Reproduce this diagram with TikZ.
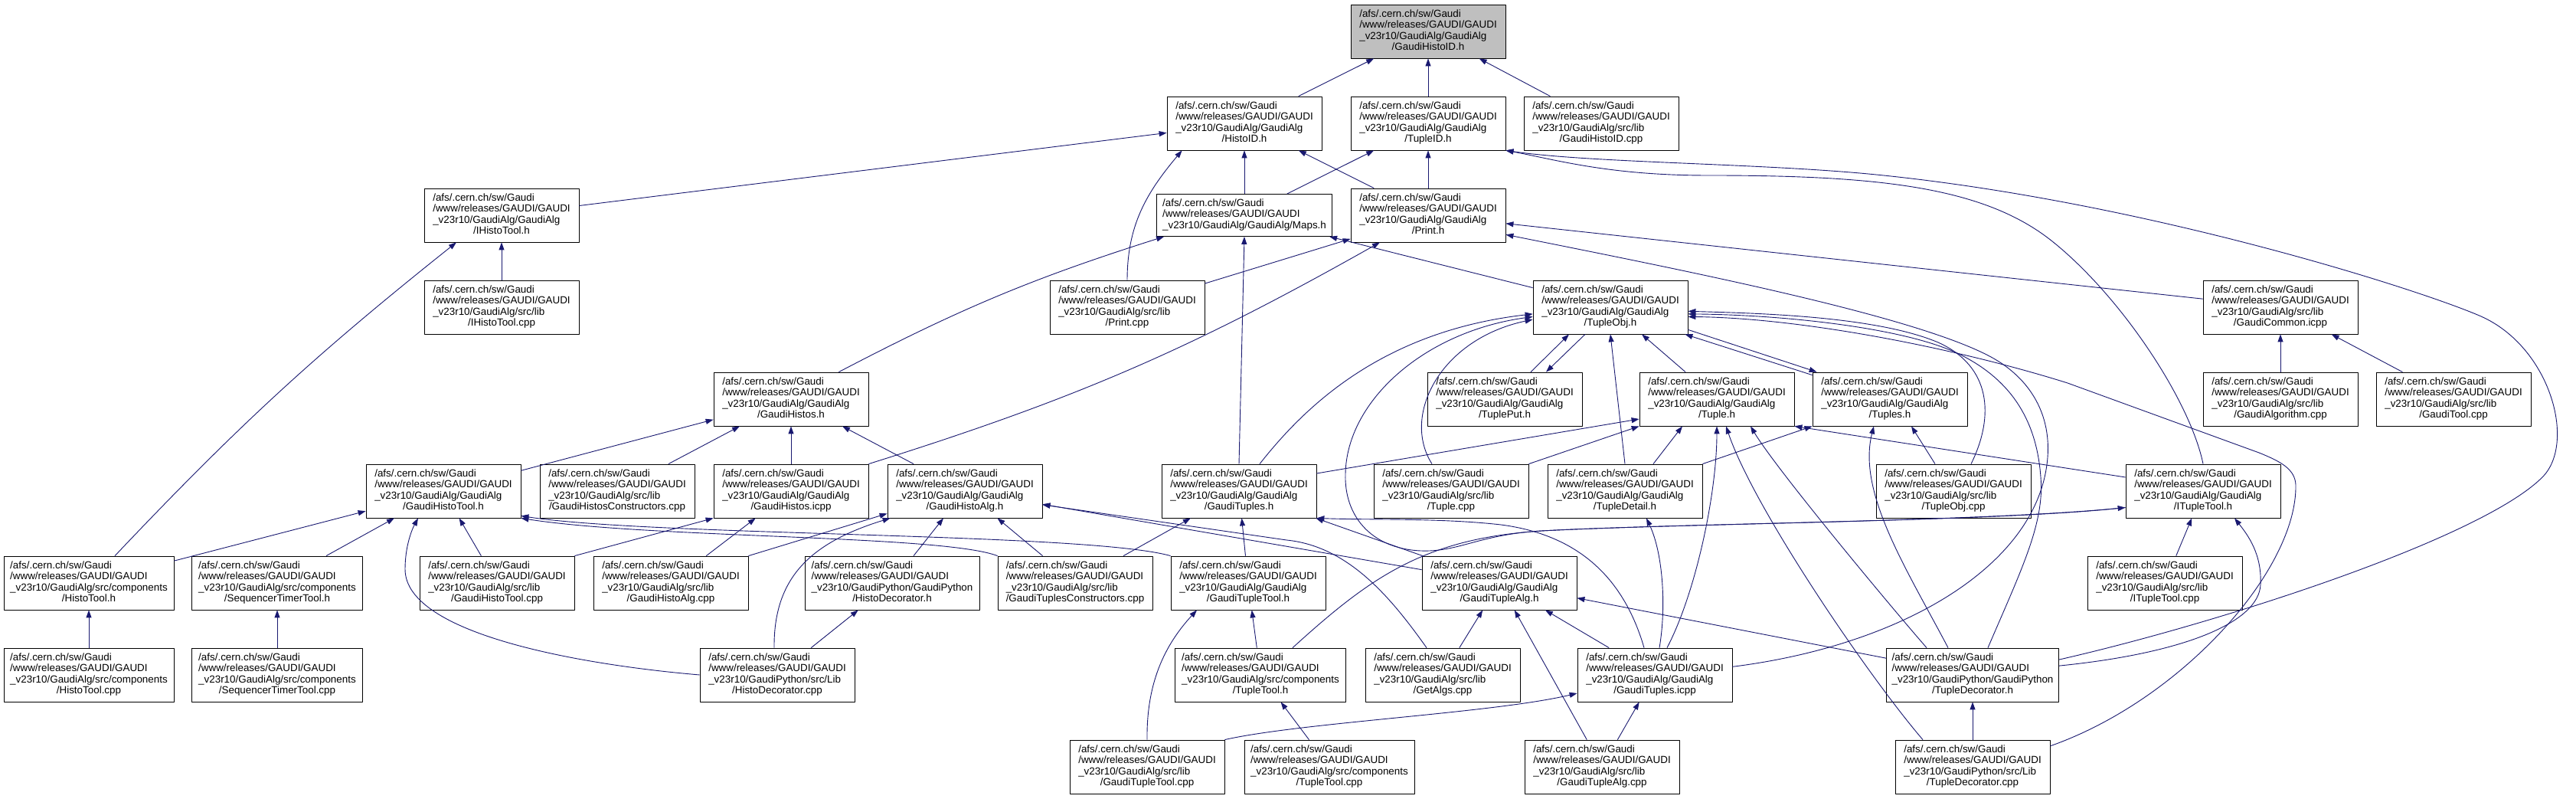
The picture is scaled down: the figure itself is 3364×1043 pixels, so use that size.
\documentclass[tikz,border=0pt]{standalone}
\usepackage{fontspec}
\setmainfont{Liberation Sans}
\usetikzlibrary{arrows.meta}
\definecolor{edgeblue}{HTML}{191970}
\newcommand{\gfile}[2]{\begin{tabular}{@{}l@{}}/afs/.cern.ch/sw/Gaudi\\/www/releases/GAUDI/GAUDI\\\_v23r10/#1\\\multicolumn{1}{@{}c@{}}{/#2}\end{tabular}}
\begin{document}
\begin{tikzpicture}[x=1pt,y=1pt,>={Triangle[length=10pt,width=7pt]},line join=round,
	file/.style={draw=black,fill=white,line width=0.8pt,minimum width=202pt,minimum height=70pt,inner sep=0pt,font=\fontsize{13.4}{14.6}\selectfont},
	current/.style={file,fill=black!25},
	inc/.style={draw=edgeblue,line width=0.9pt,->}]
		\path[use as bounding box] (0,0) rectangle (3364,1043);
		\node[current] (ghid) at (1865,1002) {\gfile{GaudiAlg/GaudiAlg}{GaudiHistoID.h}};
		\node[file] (hid) at (1625,882) {\gfile{GaudiAlg/GaudiAlg}{HistoID.h}};
		\node[file] (tid) at (1865,882) {\gfile{GaudiAlg/GaudiAlg}{TupleID.h}};
		\node[file] (hidcpp) at (2091,882) {\gfile{GaudiAlg/src/lib}{GaudiHistoID.cpp}};
		\node[file] (iht) at (655,762) {\gfile{GaudiAlg/GaudiAlg}{IHistoTool.h}};
		\node[file,minimum width=229pt,minimum height=55pt] (maps) at (1625,762) {\begin{tabular}{@{}l@{}}/afs/.cern.ch/sw/Gaudi\\/www/releases/GAUDI/GAUDI\\\_v23r10/GaudiAlg/GaudiAlg/Maps.h\end{tabular}};
		\node[file] (print) at (1865,762) {\gfile{GaudiAlg/GaudiAlg}{Print.h}};
		\node[file] (ihtcpp) at (655,642) {\gfile{GaudiAlg/src/lib}{IHistoTool.cpp}};
		\node[file] (printcpp) at (1472,642) {\gfile{GaudiAlg/src/lib}{Print.cpp}};
		\node[file] (tobj) at (2103,642) {\gfile{GaudiAlg/GaudiAlg}{TupleObj.h}};
		\node[file] (gcom) at (2978,642) {\gfile{GaudiAlg/src/lib}{GaudiCommon.icpp}};
		\node[file] (ghs) at (1033,522) {\gfile{GaudiAlg/GaudiAlg}{GaudiHistos.h}};
		\node[file] (tput) at (1965,522) {\gfile{GaudiAlg/GaudiAlg}{TuplePut.h}};
		\node[file] (tup) at (2242,522) {\gfile{GaudiAlg/GaudiAlg}{Tuple.h}};
		\node[file] (tups) at (2468,522) {\gfile{GaudiAlg/GaudiAlg}{Tuples.h}};
		\node[file] (galgcpp) at (2978,522) {\gfile{GaudiAlg/src/lib}{GaudiAlgorithm.cpp}};
		\node[file] (gtoolcpp) at (3204,522) {\gfile{GaudiAlg/src/lib}{GaudiTool.cpp}};
		\node[file] (ght) at (579,402) {\gfile{GaudiAlg/GaudiAlg}{GaudiHistoTool.h}};
		\node[file] (ghscon) at (806,402) {\gfile{GaudiAlg/src/lib}{GaudiHistosConstructors.cpp}};
		\node[file] (ghsicpp) at (1033,402) {\gfile{GaudiAlg/GaudiAlg}{GaudiHistos.icpp}};
		\node[file] (gha) at (1260,402) {\gfile{GaudiAlg/GaudiAlg}{GaudiHistoAlg.h}};
		\node[file] (gts) at (1618,402) {\gfile{GaudiAlg/GaudiAlg}{GaudiTuples.h}};
		\node[file] (tupcpp) at (1895,402) {\gfile{GaudiAlg/src/lib}{Tuple.cpp}};
		\node[file] (tdet) at (2122,402) {\gfile{GaudiAlg/GaudiAlg}{TupleDetail.h}};
		\node[file] (tobjcpp) at (2551,402) {\gfile{GaudiAlg/src/lib}{TupleObj.cpp}};
		\node[file] (itt) at (2877,402) {\gfile{GaudiAlg/GaudiAlg}{ITupleTool.h}};
		\node[file,minimum width=222pt] (htool) at (116,282) {\gfile{GaudiAlg/src/components}{HistoTool.h}};
		\node[file,minimum width=223pt] (stt) at (362,282) {\gfile{GaudiAlg/src/components}{SequencerTimerTool.h}};
		\node[file] (ghtcpp) at (649,282) {\gfile{GaudiAlg/src/lib}{GaudiHistoTool.cpp}};
		\node[file] (ghacpp) at (876,282) {\gfile{GaudiAlg/src/lib}{GaudiHistoAlg.cpp}};
		\node[file,minimum width=228pt] (hdec) at (1165,282) {\gfile{GaudiPython/GaudiPython}{HistoDecorator.h}};
		\node[file] (gtscon) at (1404,282) {\gfile{GaudiAlg/src/lib}{GaudiTuplesConstructors.cpp}};
		\node[file] (gtt) at (1630,282) {\gfile{GaudiAlg/GaudiAlg}{GaudiTupleTool.h}};
		\node[file] (gta) at (1958,282) {\gfile{GaudiAlg/GaudiAlg}{GaudiTupleAlg.h}};
		\node[file] (ittcpp) at (2827,282) {\gfile{GaudiAlg/src/lib}{ITupleTool.cpp}};
		\node[file,minimum width=222pt] (htoolcpp) at (116,162) {\gfile{GaudiAlg/src/components}{HistoTool.cpp}};
		\node[file,minimum width=223pt] (sttcpp) at (362,162) {\gfile{GaudiAlg/src/components}{SequencerTimerTool.cpp}};
		\node[file] (hdeccpp) at (1015,162) {\gfile{GaudiPython/src/Lib}{HistoDecorator.cpp}};
		\node[file,minimum width=223pt] (ttool) at (1646,162) {\gfile{GaudiAlg/src/components}{TupleTool.h}};
		\node[file] (getalgs) at (1884,162) {\gfile{GaudiAlg/src/lib}{GetAlgs.cpp}};
		\node[file] (gtsicpp) at (2161,162) {\gfile{GaudiAlg/GaudiAlg}{GaudiTuples.icpp}};
		\node[file,minimum width=225pt] (tdec) at (2576,162) {\gfile{GaudiPython/GaudiPython}{TupleDecorator.h}};
		\node[file] (gttcpp) at (1498,42) {\gfile{GaudiAlg/src/lib}{GaudiTupleTool.cpp}};
		\node[file,minimum width=222pt] (ttoolcpp) at (1736,42) {\gfile{GaudiAlg/src/components}{TupleTool.cpp}};
		\node[file] (gtacpp) at (2092,42) {\gfile{GaudiAlg/src/lib}{GaudiTupleAlg.cpp}};
		\node[file] (tdeccpp) at (2576,42) {\gfile{GaudiPython/src/Lib}{TupleDecorator.cpp}};
		\draw[inc] (hid) -- (ghid);
		\draw[inc] (tid) -- (ghid);
		\draw[inc] (hidcpp) -- (ghid);
		\draw[inc] (iht) -- (hid);
		\draw[inc] (printcpp.north) to[out=90,in=-130] ([xshift=20]hid.south west);
		\draw[inc] (maps) -- (hid);
		\draw[inc] (print) -- (hid);
		\draw[inc] (maps) -- (tid);
		\draw[inc] (print) -- (tid);
		\draw[inc] (itt.north) .. controls (2860,520) and (2770,656) .. (2680,728) .. controls (2590,800) and (2450,814) .. (2230,814) .. controls (2100,814) and (2030,835) .. (tid.south east);
		\draw[inc] (tdec.10) .. controls (2900,230) and (3240,340) .. (3320,420) .. controls (3365,465) and (3330,590) .. (3240,630) .. controls (3160,665) and (2800,780) .. (2450,815) .. controls (2300,830) and (2080,830) .. (tid.south east);
		\draw[inc] (gcom) -- (print);
		\draw[inc] (gtsicpp.6) .. controls (2480,200) and (2650,300) .. (2672,430) .. controls (2684,500) and (2650,550) .. (2600,577) .. controls (2500,631) and (2200,690) .. (print.-14);
		\draw[inc] (printcpp) -- (print);
		\draw[inc] (ghsicpp.north east) to[bend right=6] ([xshift=-63]print.south);
		\draw[inc] (tobj) -- (maps);
		\draw[inc] ([xshift=-39]ghs.north east) to[bend left=5] ([xshift=10]maps.south west);
		\draw[inc] (gts.north) -- (maps.south);
		\draw[inc] ([xshift=27]gts.north) .. controls (1700,507) and (1800,610) .. (tobj.-175);
		\draw[inc] ([xshift=-25]tupcpp.north) .. controls (1830,500) and (1880,600) .. (tobj.-171);
		\draw[inc] (itt.-168) .. controls (2600,362) and (2200,360) .. (2013,350) .. controls (1930,345) and (1905,322) .. (1855,324) .. controls (1790,327) and (1755,370) .. (1757,425) .. controls (1759,520) and (1860,610) .. (tobj.-173);
		\draw[inc] ([xshift=42]ttool.north) .. controls (1790,290) and (1860,340) .. (2013,350) .. controls (2200,360) and (2600,362) .. (itt.-168);
		\draw[inc] ([xshift=34]tput.north) -- ([xshift=-54]tobj.south);
		\draw[inc] ([xshift=-33]tobj.south) -- ([xshift=54]tput.north);
		\draw[inc] (tdet.north) -- (tobj.south);
		\draw[inc] (tup) -- (tobj);
		\draw[inc] ([yshift=-4]tups.north west) -- ([xshift=-4]tobj.south east);
		\draw[inc] ([yshift=6]tobj.south east) -- ([xshift=6]tups.north west);
		\draw[inc] ([xshift=23]tobjcpp.north) .. controls (2605,500) and (2600,565) .. (2531,596) .. controls (2450,630) and (2300,634) .. (tobj.-3);
		\draw[inc] ([xshift=20]tdec.north) .. controls (2640,300) and (2670,360) .. (2665,420) .. controls (2660,490) and (2630,545) .. (2560,580) .. controls (2490,615) and (2330,632) .. (tobj.-5);
		\draw[inc] (tdeccpp.15) .. controls (2850,130) and (3000,300) .. (2998,410) .. controls (2997,430) and (2980,440) .. (2950,452) -- (2700,543) .. controls (2550,590) and (2350,628) .. (tobj.-7);
		\draw[inc] ([xshift=-24]tobjcpp.north) -- ([xshift=28]tups.south);
		\draw[inc] ([xshift=-32]tdec.north) .. controls (2490,300) and (2425,400) .. ([xshift=-21]tups.south);
		\draw[inc] (tdet.north east) -- (tups.south west);
		\draw[inc] ([xshift=-60]tdec.north) .. controls (2470,250) and (2320,430) .. ([xshift=44]tup.south);
		\draw[inc] ([xshift=-65]tdeccpp.north) .. controls (2440,160) and (2290,380) .. ([xshift=12]tup.south);
		\draw[inc] ([xshift=16]gtsicpp.north) .. controls (2215,270) and (2242,400) .. (tup.south);
		\draw[inc] ([xshift=37]tdet.north) -- ([xshift=-45]tup.south);
		\draw[inc] ([yshift=18]itt.west) -- (tup.south east);
		\draw[inc] ([yshift=23]gts.east) -- ([yshift=-26]tup.west);
		\draw[inc] (tupcpp.north east) -- (tup.south west);
		\draw[inc] (gta) -- (gts);
		\draw[inc] ([xshift=-14]gtsicpp.north) .. controls (2120,290) and (2060,345) .. (1960,358) .. controls (1880,367) and (1790,364) .. (gts.south east);
		\draw[inc] ([xshift=6]gtsicpp.north) .. controls (2176,250) and (2172,320) .. ([xshift=28]tdet.south);
		\draw[inc] (gtt) -- (gts);
		\draw[inc] (gtscon) -- (gts);
		\draw[inc] ([xshift=-21]getalgs.north) .. controls (1815,265) and (1760,330) .. (1680,338) -- (gha.-10);
		\draw[inc] (gta) -- (gha);
		\draw[inc] (gtscon) -- (gha);
		\draw[inc] (hdec) -- (gha);
		\draw[inc] ([xshift=-4]hdeccpp.north) .. controls (1010,290) and (1060,335) .. ([xshift=4]gha.south west);
		\draw[inc] (ghacpp.north east) -- ([yshift=6]gha.south west);
		\draw[inc] (getalgs) -- (gta);
		\draw[inc] (gtacpp) -- (gta);
		\draw[inc] (gtsicpp) -- (gta);
		\draw[inc] (tdec) -- (gta);
		\draw[inc] (ttool) -- (gtt);
		\draw[inc] (gttcpp.north) .. controls (1497,150) and (1520,200) .. ([xshift=-67]gtt.south);
		\draw[inc] (gttcpp.north east) .. controls (1700,100) and (1950,112) .. ([yshift=-24]gtsicpp.west);
		\draw[inc] (gtacpp) -- (gtsicpp);
		\draw[inc] (ttoolcpp) -- (ttool);
		\draw[inc] (gtscon.north west) .. controls (1230,345) and (850,340) .. (ght.south east);
		\draw[inc] (gtt.north west) .. controls (1420,348) and (850,343) .. ([yshift=3]ght.south east);
		\draw[inc] (hdeccpp) -- (hdec);
		\draw[inc] (ghacpp) -- (ghsicpp);
		\draw[inc] (ghtcpp.north east) -- (ghsicpp.south west);
		\draw[inc] (ghtcpp) -- (ght);
		\draw[inc] (hdeccpp.west) .. controls (760,175) and (529,215) .. (529,300) .. controls (529,330) and (538,352) .. ([xshift=-33]ght.south);
		\draw[inc] (stt) -- (ght);
		\draw[inc] (htool) -- (ght);
		\draw[inc] ([xshift=34]htool.north) to[bend left=4] ([xshift=-59]iht.south);
		\draw[inc] (ihtcpp) -- (iht);
		\draw[inc] (htoolcpp) -- (htool);
		\draw[inc] (sttcpp) -- (stt);
		\draw[inc] (ght) -- (ghs);
		\draw[inc] (ghscon) -- (ghs);
		\draw[inc] (ghsicpp) -- (ghs);
		\draw[inc] (gha) -- (ghs);
		\draw[inc] (galgcpp) -- (gcom);
		\draw[inc] (gtoolcpp) -- (gcom);
		\draw[inc] (ittcpp) -- (itt);
		\draw[inc] (tdec.6) .. controls (2850,190) and (2950,230) .. (2952,280) .. controls (2954,320) and (2935,345) .. ([xshift=41]itt.south);
		\draw[inc] (tdeccpp) -- (tdec);
		\end{tikzpicture}
\end{document}
